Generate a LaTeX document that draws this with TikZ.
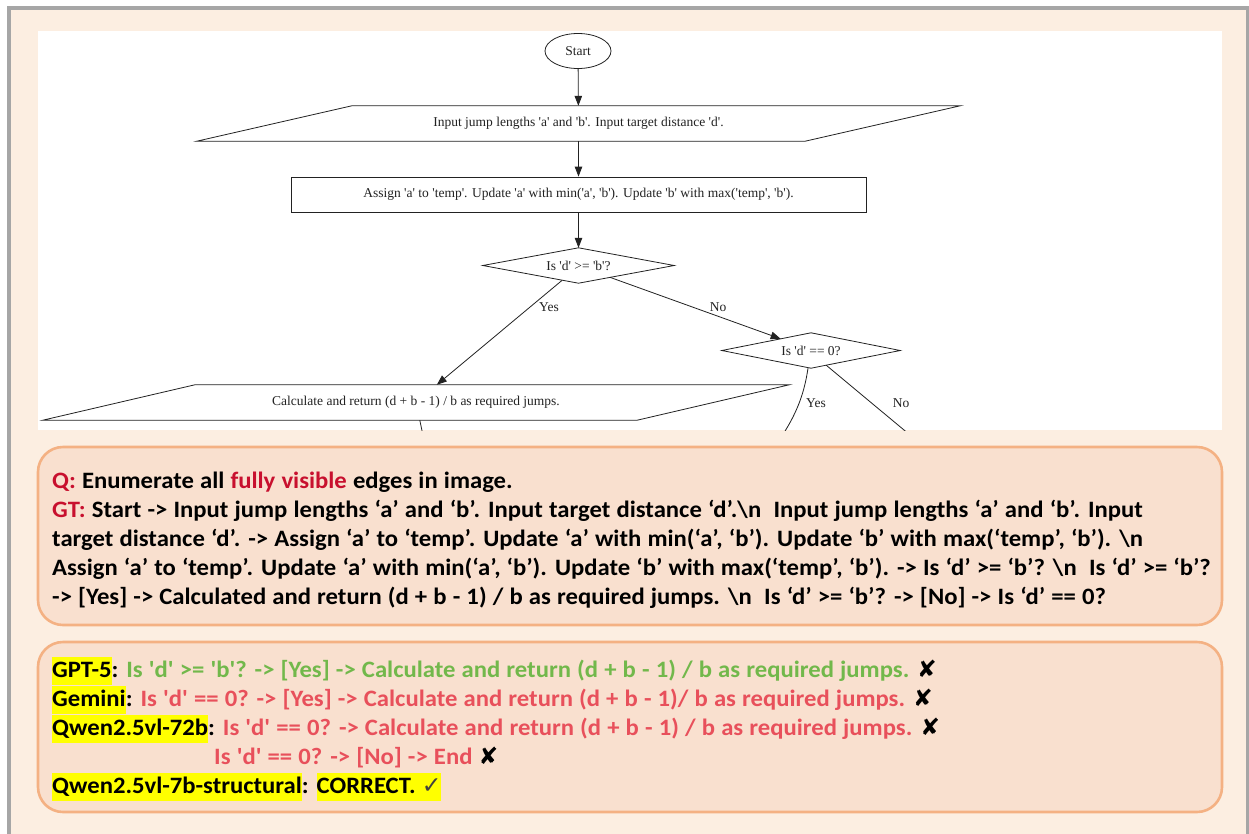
\documentclass[tikz,border=0pt]{standalone}
\usepackage{fontspec}
\newfontfamily\chartfont{Liberation Serif}
\newfontfamily\boxfont{Carlito}[FakeStretch=1.05, WordSpace=1.1]
\newfontfamily\symfont{DejaVu Sans}
\usetikzlibrary{shapes.geometric,arrows.meta,calc}

\definecolor{framegray}{HTML}{A6A6A6}
\definecolor{cream}{HTML}{FCEEE1}
\definecolor{peach}{HTML}{F9E0CF}
\definecolor{peachline}{HTML}{F4B183}
\definecolor{qred}{HTML}{C8102E}
\definecolor{okgreen}{HTML}{72B84B}
\definecolor{badred}{HTML}{E8505B}
\definecolor{hlyellow}{HTML}{FFFF00}
\definecolor{tickgray}{HTML}{404040}
\definecolor{ink}{HTML}{222222}

% yellow marker behind a model name
\newcommand\hlbox[1]{{\setlength{\fboxsep}{0pt}\colorbox{hlyellow}{\rule[-7.5pt]{0pt}{28pt}#1}}}
\newcommand\wrong{{\symfont\color{black}✘}}

\tikzset{
  chart/.style={font=\chartfont\fontsize{13.5}{15}\selectfont, inner sep=0pt, text=ink},
  shapeline/.style={draw=ink, line width=0.8pt},
  arr/.style={draw=ink, line width=0.8pt, -{Triangle[length=10pt,width=7.5pt]}},
  edge/.style={draw=ink, line width=0.8pt},
  panel/.style={draw=peachline, line width=2.6pt, fill=peach, rounded corners=25pt},
  txt/.style={anchor=base west, inner sep=0pt, font=\boxfont\bfseries\fontsize{23.5}{28}\selectfont},
}

\begin{document}
\begin{tikzpicture}[x=1pt,y=-1pt]
\useasboundingbox (0,0) rectangle (1249,833);
\fill[white] (0,0) rectangle (1249,833);

% outer frame
\begin{scope}
  \clip (0,0) rectangle (1249,833);
  \draw[framegray, line width=4pt, fill=cream] (9,7.5) rectangle (1247.5,850);
\end{scope}

% flowchart panel
\fill[white] (38,31) rectangle (1222,430);
\begin{scope}
  \clip (38,31) rectangle (1222,430);

  \node[chart, ellipse, shapeline, minimum width=66pt, minimum height=35pt] (start) at (578,51) {Start};

  \node[chart, minimum width=763pt, minimum height=35pt] (input) at (578.5,123.5)
    {Input jump lengths 'a' and 'b'. Input target distance 'd'.};
  \draw[shapeline] ([xshift=155pt]input.north west) -- (input.north east)
    -- ([xshift=-155pt]input.south east) -- (input.south west) -- cycle;

  \node[chart, shapeline, rectangle, minimum width=575pt, minimum height=35pt] (assign) at (578.5,194.5)
    {Assign 'a' to 'temp'. Update 'a' with min('a', 'b'). Update 'b' with max('temp', 'b').};

  \node[chart, minimum width=191pt, minimum height=35pt] (q1) at (578.5,265.5) {Is 'd' >= 'b'?};
  \draw[shapeline] (q1.west) -- (q1.north) -- (q1.east) -- (q1.south) -- cycle;

  \node[chart, minimum width=178pt, minimum height=35pt] (q2) at (811,350.5) {Is 'd' == 0?};
  \draw[shapeline] (q2.west) -- (q2.north) -- (q2.east) -- (q2.south) -- cycle;

  \node[chart, minimum width=746pt, minimum height=35pt] (calc) at (416,402.5)
    {Calculate and return (d + b - 1) / b as required jumps.};
  \draw[shapeline] ([xshift=152pt]calc.north west) -- (calc.north east)
    -- ([xshift=-152pt]calc.south east) -- (calc.south west) -- cycle;

  % connectors
  \draw[arr] (start) -- (input);
  \draw[arr] (input) -- (assign);
  \draw[arr] (assign) -- (q1);
  \draw[arr] ($(q1.west)!0.83!(q1.south)$) -- ([xshift=394pt]calc.north west);
  \node[chart] (yes1) at (549,307) {Yes};
  \draw[arr] ($(q1.south)!0.33!(q1.east)$) -- ($(q2.west)!0.66!(q2.north)$);
  \node[chart] (no1) at (718,307) {No};

  \coordinate (yesend) at (772,450);
  \draw[edge] ([xshift=-3pt]q2.south) .. controls (804,395) and (796,418) .. (yesend);
  \node[chart] (yes2) at (816,403) {Yes};
  \coordinate (noend) at (928,450);
  \draw[edge] ($(q2.south)!0.17!(q2.east)$) -- (noend);
  \node[chart] (no2) at (901,403) {No};

  \coordinate (calcout) at (425,445);
  \draw[edge] ([xshift=377pt]calc.south west) -- (calcout);
\end{scope}

% question and ground truth
\draw[panel] (38,447) rectangle (1222,625);
\node[txt] (qline) at (52,488) {\textcolor{qred}{Q:} Enumerate all \textcolor{qred}{fully visible} edges in image.};
\node[txt] (gt1) at (52,517) {\textcolor{qred}{GT:} Start -> Input jump lengths ‘a’ and ‘b’. Input target distance ‘d’.\textbackslash n\ \ Input jump lengths ‘a’ and ‘b’. Input};
\node[txt] (gt2) at (52,546) {target distance ‘d’. -> Assign ‘a’ to ‘temp’. Update ‘a’ with min(‘a’, ‘b’). Update ‘b’ with max(‘temp’, ‘b’). \textbackslash n};
\node[txt] (gt3) at (52,575) {Assign ‘a’ to ‘temp’. Update ‘a’ with min(‘a’, ‘b’). Update ‘b’ with max(‘temp’, ‘b’). -> Is ‘d’ >= ‘b’? \textbackslash n\ \ Is ‘d’ >= ‘b’?};
\node[txt] (gt4) at (52,604) {-> [Yes] -> Calculated and return (d + b - 1) / b as required jumps. \textbackslash n\ \ Is ‘d’ >= ‘b’? -> [No] -> Is ‘d’ == 0?};

% model answers
\draw[panel] (38,642) rectangle (1222,812);
\node[txt] (m1) at (52,677) {\hlbox{GPT-5}: \textcolor{okgreen}{Is 'd' >= 'b'? -> [Yes] -> Calculate and return (d + b - 1) / b as required jumps.} \wrong};
\node[txt] (m2) at (52,706) {\hlbox{Gemini}: \textcolor{badred}{Is 'd' == 0? -> [Yes] -> Calculate and return (d + b - 1)/ b as required jumps.} \wrong};
\node[txt] (m3) at (52,735) {\hlbox{Qwen2.5vl-72b}: \textcolor{badred}{Is 'd' == 0? -> Calculate and return (d + b - 1) / b as required jumps.} \wrong};
\node[txt] (m3b) at (214,764) {\textcolor{badred}{Is 'd' == 0? -> [No] -> End} \wrong};
\node[txt] (m4) at (52,793) {\hlbox{Qwen2.5vl-7b-structural}: \hlbox{CORRECT. {\symfont\textcolor{tickgray}{✓}}}};
\end{tikzpicture}
\end{document}
